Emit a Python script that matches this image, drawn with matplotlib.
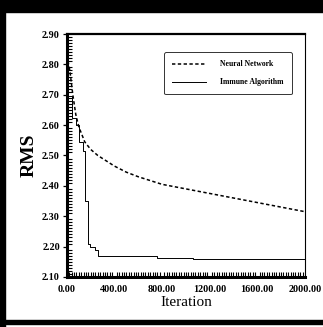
import matplotlib
matplotlib.use("Agg")
import matplotlib.pyplot as plt
from matplotlib.patches import Rectangle
from matplotlib.ticker import MultipleLocator, FormatStrFormatter

# Neural network RMS curve (dashed)
nn_iter = [0, 25, 50, 75, 100, 150, 200, 260, 300, 400, 500, 600, 800,
           1000, 1200, 1400, 1600, 1800, 2000]
nn_rms = [2.83, 2.78, 2.70, 2.635, 2.595, 2.545, 2.52, 2.50, 2.49, 2.465,
          2.445, 2.43, 2.405, 2.39, 2.375, 2.36, 2.345, 2.33, 2.315]

# Immune algorithm RMS curve (solid, stepwise)
ia_iter = [0, 12, 42, 78, 98, 135, 155, 162, 174, 198, 240, 262, 760, 1060, 2000]
ia_rms = [2.83, 2.695, 2.625, 2.60, 2.545, 2.515, 2.35, 2.35, 2.21, 2.20,
          2.19, 2.168, 2.164, 2.158, 2.158]

plt.rcParams['font.family'] = ['Liberation Serif', 'DejaVu Serif']

fig = plt.figure(figsize=(3.23, 3.27), dpi=100)
ax = fig.add_axes([0.207, 0.153, 0.737, 0.743])

ax.plot(nn_iter, nn_rms, color='black', linestyle=(0, (2.2, 1.6)), linewidth=1.1,
        label='Neural Network')
ax.plot(ia_iter, ia_rms, color='black', linewidth=0.7, drawstyle='steps-post',
        label='Immune Algorithm')

ax.set_xlim(0, 2000)
ax.set_ylim(2.10, 2.90)
ax.xaxis.set_major_locator(MultipleLocator(400))
ax.yaxis.set_major_locator(MultipleLocator(0.1))
ax.xaxis.set_minor_locator(MultipleLocator(20))
ax.yaxis.set_minor_locator(MultipleLocator(0.01))
ax.xaxis.set_major_formatter(FormatStrFormatter('%.2f'))
ax.yaxis.set_major_formatter(FormatStrFormatter('%.2f'))

ax.tick_params(which='major', direction='out', length=3, width=0.9,
               labelsize=7.3, pad=2)
ax.tick_params(axis='x', which='major', length=0, pad=6)
ax.tick_params(which='minor', direction='in', length=3.5, width=0.8)
ax.tick_params(top=False, right=False)
for lab in ax.get_xticklabels() + ax.get_yticklabels():
    lab.set_fontweight('bold')

ax.spines['left'].set_linewidth(2.2)
ax.spines['bottom'].set_linewidth(2.2)
ax.spines['top'].set_linewidth(1.6)
ax.spines['right'].set_linewidth(0.8)

ax.set_ylabel('RMS', fontsize=14, fontweight='bold', labelpad=3)
ax.set_xlabel('Iteration', fontsize=11, labelpad=1)

leg = ax.legend(loc='upper right', bbox_to_anchor=(0.96, 0.94), fontsize=5.6,
                frameon=True, fancybox=True, edgecolor='black',
                handlelength=4.4, borderpad=1.0, labelspacing=1.3,
                handletextpad=1.8)
leg.get_frame().set_linewidth(0.7)
for t in leg.get_texts():
    t.set_fontweight('bold')

# scanned-page frame around the figure
fig.patches.append(Rectangle((0, 1 - 12 / 327), 1, 12 / 327, transform=fig.transFigure,
                             color='black', zorder=0))
fig.patches.append(Rectangle((0, 0), 5 / 323, 1, transform=fig.transFigure,
                             color='black', zorder=0))
fig.patches.append(Rectangle((0, 3 / 327), 1, 4 / 327, transform=fig.transFigure,
                             color='black', zorder=0))

fig.savefig('out.png', dpi=100)
